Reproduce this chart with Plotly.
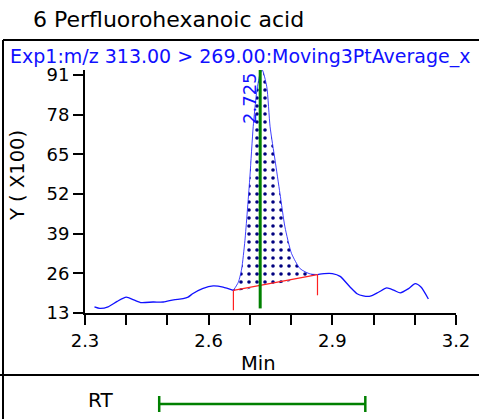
import plotly.graph_objects as go

# Chromatogram: retention time (min) vs intensity (x100)
time_min = [2.323, 2.336, 2.356, 2.378, 2.400, 2.420, 2.437, 2.465, 2.490, 2.515,
            2.538, 2.550, 2.562, 2.585, 2.611, 2.635, 2.660, 2.672, 2.680, 2.688,
            2.700, 2.708, 2.716, 2.724, 2.730, 2.741, 2.749, 2.761, 2.773, 2.785,
            2.801, 2.822, 2.846, 2.864, 2.880, 2.900, 2.919, 2.943, 2.960, 2.975,
            2.992, 3.012, 3.032, 3.050, 3.065, 3.085, 3.101, 3.115, 3.133]
intensity = [15.0, 14.5, 15.0, 16.8, 18.2, 17.2, 16.4, 16.6, 16.6, 17.3,
             17.7, 18.2, 19.4, 21.0, 21.9, 21.5, 20.4, 23.1, 27.4, 36.8,
             57.6, 74.0, 84.9, 91.0, 92.6, 87.1, 74.0, 63.1, 52.1, 41.2,
             32.5, 27.5, 25.8, 25.6, 25.9, 25.9, 25.0, 21.5, 19.3, 18.6,
             18.5, 19.8, 21.2, 20.4, 19.6, 21.0, 22.6, 21.5, 17.6]

peak_rt = 2.725
peak_start, peak_end = 2.660, 2.864
base_start_y, base_end_y = 20.4, 25.6
tick_start_low, tick_end_low = 13.9, 18.8
rt_window = [2.48, 2.98]

y_ticks = [13, 26, 39, 52, 65, 78, 91]
x_ticks = [2.3, 2.4, 2.5, 2.6, 2.7, 2.8, 2.9, 3.0, 3.1, 3.2]
x_labels = ["2.3", "", "", "2.6", "", "", "2.9", "", "", "3.2"]

W, H = 479, 419


def px(x):
    # pixel column -> paper fraction
    return x / W


def py(y):
    # pixel row (from top) -> paper fraction
    return (H - y) / H


FONT = "DejaVu Sans"
BLUE = "#1010ff"
GREEN = "#008000"

fig = go.Figure()

# indices of the integrated peak region
i0 = time_min.index(peak_start)
i1 = time_min.index(peak_end)

# dotted integrated area between the peak and its baseline
fig.add_trace(go.Scatter(
    x=time_min[i0:i1 + 1] + [peak_start],
    y=intensity[i0:i1 + 1] + [base_start_y],
    mode="lines", line=dict(width=0, shape="spline", smoothing=0.6),
    fill="toself", fillcolor="white",
    fillpattern=dict(shape=".", fgcolor="#000080", bgcolor="white",
                     fgopacity=1, size=8, solidity=0.16),
    hoverinfo="skip", showlegend=False))

# trace outside the peak
fig.add_trace(go.Scatter(x=time_min[:i0 + 1], y=intensity[:i0 + 1], mode="lines",
                         line=dict(color=BLUE, width=1.3, shape="spline", smoothing=0.6),
                         showlegend=False))
fig.add_trace(go.Scatter(x=time_min[i1:], y=intensity[i1:], mode="lines",
                         line=dict(color=BLUE, width=1.3, shape="spline", smoothing=0.6),
                         showlegend=False))
# peak itself, thinner
fig.add_trace(go.Scatter(x=time_min[i0:i1 + 1], y=intensity[i0:i1 + 1], mode="lines",
                         line=dict(color=BLUE, width=0.8, shape="spline", smoothing=0.6),
                         showlegend=False))

# baseline and integration limits
fig.add_trace(go.Scatter(
    x=[peak_start, peak_end, None, peak_start, peak_start, None, peak_end, peak_end],
    y=[base_start_y, base_end_y, None, base_start_y, tick_start_low, None, base_end_y, tick_end_low],
    mode="lines", line=dict(color="#ff2020", width=1.2), showlegend=False))

# retention time marker
fig.add_trace(go.Scatter(x=[peak_rt, peak_rt], y=[14.5, 93], mode="lines",
                         line=dict(color=GREEN, width=3), showlegend=False))

# expected RT window (own strip below the chromatogram)
fig.add_trace(go.Scatter(
    x=[rt_window[0], rt_window[1], None, rt_window[0], rt_window[0], None, rt_window[1], rt_window[1]],
    y=[0, 0, None, -1, 1, None, -1, 1],
    mode="lines", line=dict(color=GREEN, width=2.5),
    xaxis="x2", yaxis="y2", showlegend=False))

axis_font = dict(family=FONT, size=18, color="black")
x_dom = [px(85), px(456)]

fig.update_layout(
    width=W, height=H,
    margin=dict(l=0, r=0, t=0, b=0, pad=0),
    paper_bgcolor="white", plot_bgcolor="white",
    xaxis=dict(range=[2.3, 3.2], domain=x_dom, tickvals=x_ticks, ticktext=x_labels,
               showline=True, linecolor="black", linewidth=2,
               ticks="outside", ticklen=10, tickwidth=2, tickcolor="black",
               showgrid=False, zeroline=False, tickfont=axis_font,
               automargin=False, anchor="y"),
    yaxis=dict(range=[13, 92.6], domain=[py(313), py(70)], tickvals=y_ticks,
               showline=True, linecolor="black", linewidth=2,
               ticks="outside", ticklen=10, tickwidth=2, tickcolor="black",
               showgrid=False, zeroline=False, tickfont=axis_font,
               automargin=False, anchor="x"),
    xaxis2=dict(range=[2.3, 3.2], domain=x_dom, visible=False, anchor="y2",
                automargin=False),
    yaxis2=dict(range=[-1, 1], domain=[py(412), py(396)], visible=False, anchor="x2",
                automargin=False),
    shapes=[
        dict(type="line", xref="paper", yref="paper", x0=px(3), x1=px(3), y0=py(40), y1=py(419),
             line=dict(color="black", width=2)),
        dict(type="line", xref="paper", yref="paper", x0=px(3), x1=px(479), y0=py(40), y1=py(40),
             line=dict(color="black", width=2)),
        dict(type="line", xref="paper", yref="paper", x0=px(0), x1=px(479), y0=py(375), y1=py(375),
             line=dict(color="black", width=2)),
    ],
    annotations=[
        dict(text="6 Perfluorohexanoic acid", xref="paper", yref="paper",
             x=px(31), y=py(20), xanchor="left", yanchor="middle", showarrow=False,
             font=dict(family=FONT, size=22, color="black")),
        dict(text="Exp1:m/z 313.00 > 269.00:Moving3PtAverage_x", xref="paper", yref="paper",
             x=px(8), y=py(56), xanchor="left", yanchor="middle", showarrow=False,
             font=dict(family=FONT, size=19, color=BLUE)),
        dict(text="Y ( X100)", xref="paper", yref="paper", x=px(18), y=py(176),
             xanchor="center", yanchor="middle", textangle=-90, showarrow=False,
             font=dict(family=FONT, size=19.5, color="black")),
        dict(text="Min", xref="paper", yref="paper", x=px(258), y=py(363),
             xanchor="center", yanchor="middle", showarrow=False,
             font=dict(family=FONT, size=19.5, color="black")),
        dict(text="RT", xref="paper", yref="paper", x=px(100), y=py(400),
             xanchor="center", yanchor="middle", showarrow=False,
             font=dict(family=FONT, size=20, color="black")),
        dict(text=f"{peak_rt:.3f}", xref="paper", yref="paper", x=px(250), y=py(98),
             xanchor="center", yanchor="middle", textangle=-90, showarrow=False,
             font=dict(family=FONT, size=18, color=BLUE)),
    ],
)

fig.write_html("out.html")
